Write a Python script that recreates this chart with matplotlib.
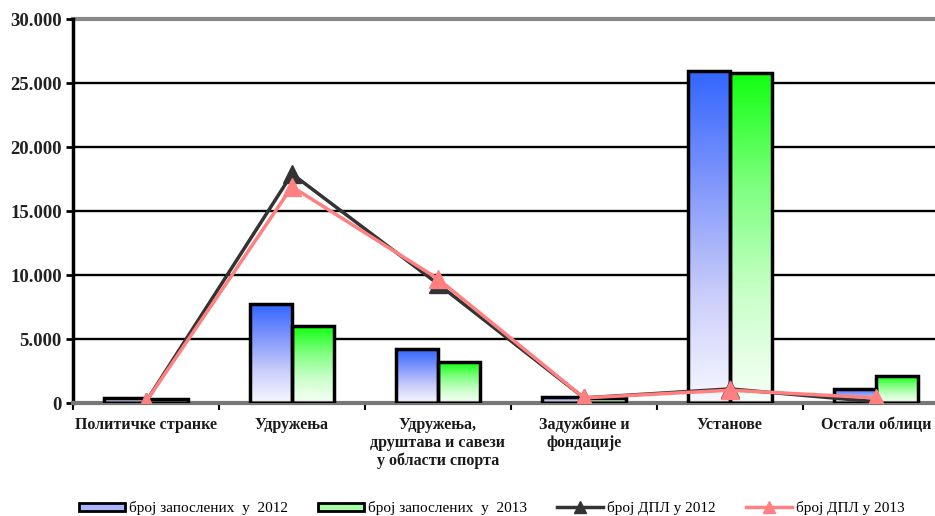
import numpy as np
import matplotlib
matplotlib.use("Agg")
import matplotlib.pyplot as plt
from matplotlib.patches import Patch
from matplotlib.lines import Line2D
from matplotlib.colors import LinearSegmentedColormap

categories = ["Политичке странке", "Удружења", "Удружења,\nдруштава и савези\nу области спорта",
              "Задужбине и\nфондације", "Установе", "Остали облици"]
emp_2012 = [400, 7700, 4200, 500, 25900, 1100]
emp_2013 = [350, 6000, 3200, 400, 25800, 2100]
dpl_2012 = [100, 17900, 9300, 400, 1100, 100]
dpl_2013 = [100, 16900, 9700, 400, 1000, 400]
series_names = ["број запослених  у  2012", "број запослених  у  2013", "број ДПЛ у 2012", "број ДПЛ у 2013"]
yticks = [0, 5000, 10000, 15000, 20000, 25000, 30000]
ytick_labels = ["0", "5.000", "10.000", "15.000", "20.000", "25.000", "30.000"]

serif = ["Liberation Serif", "DejaVu Serif"]
fig = plt.figure(figsize=(9.35, 5.16), dpi=100)
ax = fig.add_axes([73/935, 1-403/516, (949-73)/935, (403-19)/516])

x = np.arange(len(categories))
w = 0.288
blue_cmap = LinearSegmentedColormap.from_list("b", ["#f8f8ff", "#c8ccfa", "#7f96fc", "#3366ff"])
green_cmap = LinearSegmentedColormap.from_list("g", ["#f8fff8", "#c8ffc8", "#7bff7b", "#10ff10"])
grad = np.linspace(0, 1, 256).reshape(-1, 1)

for vals, off, cmap in [(emp_2012, -w/2, blue_cmap), (emp_2013, w/2, green_cmap)]:
    bars = ax.bar(x + off, vals, width=w, facecolor="none", edgecolor="black", linewidth=2.5, zorder=3)
    for b in bars:
        x0, y0 = b.get_x(), b.get_y()
        im = ax.imshow(grad, cmap=cmap, origin="lower", aspect="auto",
                       extent=[x0, x0 + b.get_width(), y0, y0 + b.get_height()], zorder=2)
        im.set_clip_path(b)

ax.plot(x, dpl_2012, color="#333333", lw=2.5, marker="^", markersize=13, zorder=4)
ax.plot(x, dpl_2013, color="#ff8080", lw=2.5, marker="^", markersize=13, zorder=5)

ax.set_xlim(-0.5, len(categories) - 0.5)
ax.set_ylim(0, 30000)
ax.set_yticks(yticks)
ax.set_yticklabels(ytick_labels, fontfamily=serif, fontsize=13.5, fontweight="bold", color="#222222")
for yv in yticks[1:-1]:
    ax.axhline(yv, color="black", lw=1.7, zorder=1)
ax.axhline(30000, color="#888888", lw=3, zorder=1, clip_on=False)

ax.set_xticks(x)
ax.set_xticklabels(categories, fontfamily=serif, fontsize=11.5, fontweight="bold",
                   color="#1a1a1a", linespacing=1.15)
ax.tick_params(axis="x", length=0, pad=10)
ax.set_xticks(np.arange(-0.5, len(categories), 1), minor=True)
ax.tick_params(axis="x", which="minor", length=5, width=1.5, direction="out")
ax.tick_params(axis="y", length=5, width=2, direction="out", pad=3)

for s in ["top", "right"]:
    ax.spines[s].set_visible(False)
ax.spines["left"].set_linewidth(2.5)
ax.spines["bottom"].set_linewidth(3)
ax.spines["bottom"].set_color("#777777")

handles = [Patch(facecolor="#a8b4fc", edgecolor="black", linewidth=2),
           Patch(facecolor="#a8fca8", edgecolor="black", linewidth=2),
           Line2D([], [], color="#333333", lw=2.5, marker="^", markersize=8),
           Line2D([], [], color="#ff8080", lw=2.5, marker="^", markersize=8)]
fig.legend(handles, series_names, loc="lower center", bbox_to_anchor=(0.526, -0.025), ncol=4,
           frameon=False, prop={"family": serif, "size": 11}, columnspacing=2.0,
           handlelength=3.0, handleheight=0.45, handletextpad=0.25)

fig.savefig("out.png", dpi=100)
